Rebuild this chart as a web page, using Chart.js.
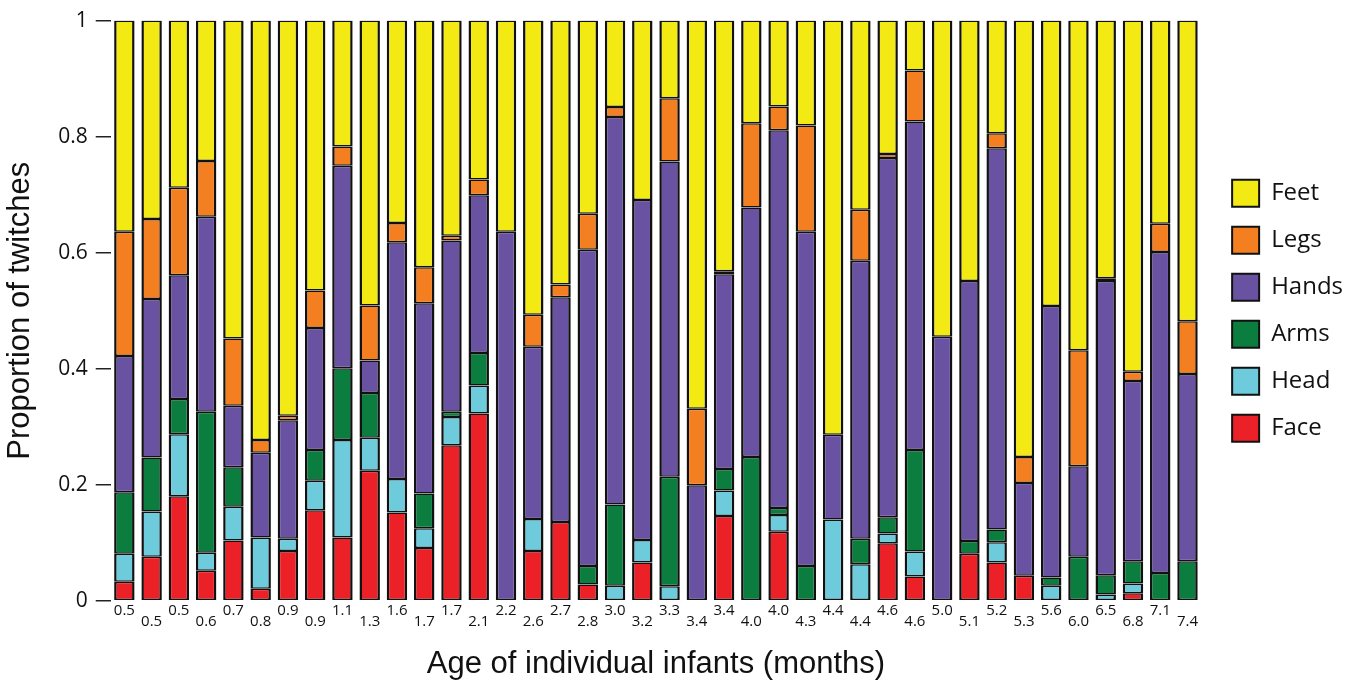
<!DOCTYPE html>
<html>
<head>
<meta charset="utf-8">
<script src="https://cdn.jsdelivr.net/npm/chart.js@4/dist/chart.umd.min.js"></script>
<style>
  html, body { margin: 0; padding: 0; background: #fff; }
</style>
</head>
<body>
<canvas id="twitches" width="1363" height="683"></canvas>
<script>
// ages of the infants (x categories)
var ages = ['0.5','0.5','0.5','0.6','0.7','0.8','0.9','0.9','1.1','1.3',
            '1.6','1.7','1.7','2.1','2.2','2.6','2.7','2.8','3.0','3.2',
            '3.3','3.4','3.4','4.0','4.0','4.3','4.4','4.4','4.6','4.6',
            '5.0','5.1','5.2','5.3','5.6','6.0','6.5','6.8','7.1','7.4'];

// proportions (bottom to top of each bar)
var face  = [0.033,0.076,0.180,0.052,0.104,0.021,0.086,0.156,0.109,0.224,
             0.152,0.091,0.268,0.323,0,0.086,0.136,0.028,0,0.066,
             0,0,0.146,0,0.119,0,0,0,0.099,0.042,
             0,0.081,0.066,0.043,0,0,0,0.013,0,0];
var head  = [0.048,0.078,0.107,0.031,0.058,0.088,0.021,0.051,0.168,0.057,
             0.058,0.034,0.049,0.048,0,0.055,0,0,0.026,0.039,
             0.025,0,0.044,0,0.029,0,0.140,0.063,0.017,0.043,
             0,0,0.035,0,0.026,0,0.011,0.017,0,0];
var arms  = [0.106,0.093,0.061,0.243,0.068,0,0,0.053,0.124,0.077,
             0,0.060,0.009,0.056,0,0,0,0.032,0.140,0,
             0.189,0,0.037,0.248,0.012,0.060,0,0.044,0.028,0.175,
             0,0.022,0.022,0,0.014,0.076,0.033,0.038,0.048,0.068];
var hands = [0.235,0.273,0.213,0.336,0.106,0.146,0.204,0.210,0.349,0.056,
             0.408,0.328,0.295,0.272,0.636,0.297,0.387,0.545,0.668,0.586,
             0.543,0.199,0.336,0.430,0.651,0.576,0.146,0.479,0.619,0.566,
             0.455,0.448,0.657,0.160,0.468,0.156,0.507,0.311,0.553,0.323];
var legs  = [0.214,0.138,0.151,0.096,0.116,0.022,0.008,0.065,0.033,0.095,
             0.033,0.062,0.008,0.027,0,0.055,0.022,0.062,0.017,0,
             0.109,0.132,0.005,0.145,0.041,0.183,0,0.088,0.007,0.088,
             0,0,0.026,0.045,0,0.200,0.005,0.016,0.049,0.091];
var feet  = [0.364,0.342,0.288,0.242,0.548,0.723,0.681,0.465,0.217,0.491,
             0.349,0.425,0.371,0.274,0.364,0.507,0.455,0.333,0.149,0.309,
             0.134,0.669,0.432,0.177,0.148,0.181,0.714,0.326,0.230,0.086,
             0.545,0.449,0.194,0.752,0.492,0.568,0.444,0.605,0.350,0.518];

var yTicks = [0, 0.2, 0.4, 0.6, 0.8, 1];

function series(label, data, color){
  return {
    label: label,
    data: data,
    backgroundColor: color,
    borderColor: '#111',
    borderWidth: {left: 2.5, right: 2.5, top: 1.5, bottom: 1.5},
    borderSkipped: false,
    barPercentage: 0.75,
    categoryPercentage: 1
  };
}

var ctx = document.getElementById('twitches').getContext('2d');
var chart = new Chart(ctx, {
  type: 'bar',
  data: {
    labels: ages,
    datasets: [
      series('Face', face, '#ec2027'),
      series('Head', head, '#6dcbdb'),
      series('Arms', arms, '#0b7d3e'),
      series('Hands', hands, '#6a52a2'),
      series('Legs', legs, '#f47f20'),
      series('Feet', feet, '#f4ea13')
    ]
  },
  options: {
    responsive: false,
    animation: false,
    layout: { padding: {top: 19, left: 0, right: 10, bottom: 0} },
    plugins: {
      tooltip: { enabled: false },
      legend: {
        position: 'right',
        fullSize: false,
        reverse: true,
        labels: {
          boxWidth: 27,
          boxHeight: 27,
          padding: 20,
          color: '#111',
          font: { family: 'Open Sans', size: 24 }
        }
      }
    },
    scales: {
      x: {
        stacked: true,
        grid: { display: false, drawTicks: false },
        border: { display: false },
        ticks: {
          autoSkip: false,
          maxRotation: 0,
          minRotation: 0,
          padding: 4,
          color: '#111',
          font: { family: 'Open Sans', size: 15, lineHeight: 0.733 },
          callback: function(v, i){
            // labels are staggered on two rows
            return i % 2 ? ['', ages[i]] : ages[i];
          }
        },
        title: {
          display: true,
          text: 'Age of individual infants (months)',
          color: '#111',
          font: { family: 'Liberation Sans', size: 31 },
          padding: { top: 15, bottom: 0 }
        }
      },
      y: {
        stacked: true,
        min: 0,
        max: 1,
        afterBuildTicks: function(s){
          s.ticks = yTicks.map(function(v){ return {value: v}; });
        },
        grid: { drawOnChartArea: false, drawTicks: true, tickLength: 15, color: '#222', lineWidth: 1.5 },
        border: { display: false },
        ticks: {
          padding: 8,
          color: '#111',
          font: { family: 'Open Sans', size: 21 },
          callback: function(v){ return String(+v.toFixed(1)); }
        },
        title: {
          display: true,
          text: 'Proportion of twitches',
          color: '#111',
          font: { family: 'Liberation Sans', size: 31 },
          padding: { top: 2, bottom: 11 }
        }
      },
      gap: {
        position: 'right',
        display: true,
        grid: { display: false },
        border: { display: false },
        ticks: { display: false },
        afterFit: function(s){ s.width = 11; }
      }
    }
  }
});
</script>
</body>
</html>
